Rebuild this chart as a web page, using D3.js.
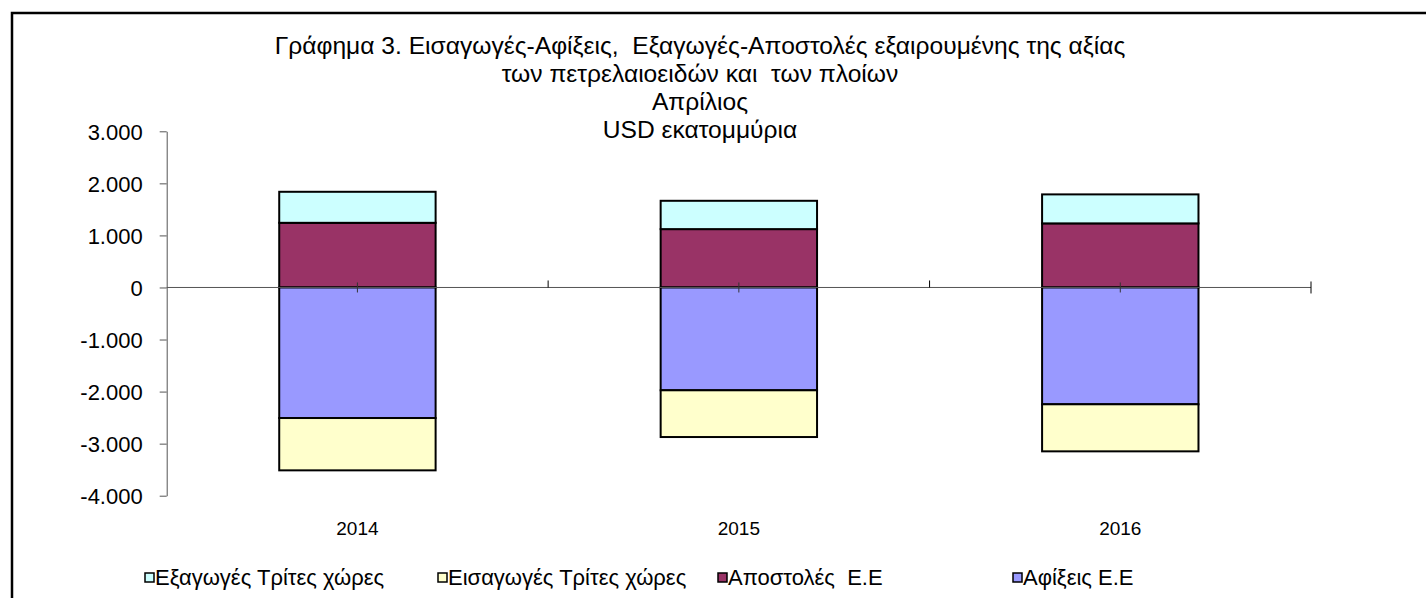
<!DOCTYPE html>
<html>
<head>
<meta charset="utf-8">
<script src="https://cdn.jsdelivr.net/npm/d3@7"></script>
<style>
  html, body { margin: 0; padding: 0; background: #fff; }
  svg { display: block; }
  text { font-family: "Liberation Sans", Arial, sans-serif; fill: #000; }
</style>
</head>
<body>
<svg id="chart" width="1426" height="598"></svg>
<script>
// ---- data (USD millions) ----
const years = ["2014", "2015", "2016"];
const exportsThird = [596, 544, 557];        // Εξαγωγές Τρίτες χώρες
const importsThird = [-1005, -898, -904];    // Εισαγωγές Τρίτες χώρες
const dispatchesEU = [1242, 1121, 1231];     // Αποστολές Ε.Ε
const arrivalsEU = [-2508, -1975, -2244];    // Αφίξεις Ε.Ε
const yTicks = [-4000, -3000, -2000, -1000, 0, 1000, 2000, 3000];
const titleLines = [
  "Γράφημα 3. Εισαγωγές-Αφίξεις,  Εξαγωγές-Αποστολές εξαιρουμένης της αξίας",
  "των πετρελαιοειδών και  των πλοίων",
  "Απρίλιος",
  "USD εκατομμύρια"
];
const seriesDefs = [
  { key: "dispatches", name: "Αποστολές  Ε.Ε", color: "#993366", values: dispatchesEU },
  { key: "arrivals", name: "Αφίξεις Ε.Ε", color: "#9999FF", values: arrivalsEU },
  { key: "exports", name: "Εξαγωγές Τρίτες χώρες", color: "#CCFFFF", values: exportsThird },
  { key: "imports", name: "Εισαγωγές Τρίτες χώρες", color: "#FFFFCC", values: importsThird }
];
const legendOrder = ["exports", "imports", "dispatches", "arrivals"];

// ---- build table ----
const table = years.map((y, i) => {
  const row = { year: y };
  seriesDefs.forEach(s => row[s.key] = s.values[i]);
  return row;
});

const svg = d3.select("#chart");

// frame (chart area border)
svg.append("rect")
  .attr("x", 12).attr("y", 13)
  .attr("width", 1440).attr("height", 600)
  .attr("fill", "none").attr("stroke", "#000").attr("stroke-width", 2.5);

const plotLeft = 166.7, plotRight = 1311, yTop = 131.3, yBottom = 495.7;

const x = d3.scaleBand().domain(years).range([plotLeft, plotRight])
  .paddingInner(0.59).paddingOuter(0.295);
const y = d3.scaleLinear().domain([-4000, 3000]).range([yBottom, yTop]);

const locale = d3.formatLocale({ decimal: ",", thousands: ".", grouping: [3], currency: ["", ""], minus: "-" });
const fmt = locale.format(",");

// title
const title = svg.append("text").attr("text-anchor", "middle").style("font-size", "24.6px");
titleLines.forEach((t, i) => {
  title.append("tspan").attr("x", 700).attr("y", 54 + i * 28).style("white-space", "pre").text(t);
});

// bars
const stack = d3.stack().keys(seriesDefs.map(s => s.key)).offset(d3.stackOffsetDiverging);
const stacked = stack(table);
const gBars = svg.append("g");
stacked.forEach((layer, li) => {
  gBars.selectAll(null).data(layer).enter().append("rect")
    .attr("x", d => x(d.data.year))
    .attr("width", x.bandwidth())
    .attr("y", d => y(Math.max(d[0], d[1])))
    .attr("height", d => Math.abs(y(d[0]) - y(d[1])))
    .attr("fill", seriesDefs[li].color)
    .attr("stroke", "#000")
    .attr("stroke-width", 2);
});

// y axis
const yAxis = d3.axisLeft(y).tickValues(yTicks).tickFormat(fmt).tickSize(7).tickPadding(17).tickSizeOuter(0);
const gy = svg.append("g").attr("transform", `translate(${plotLeft},0)`).call(yAxis);
gy.select(".domain").attr("stroke", "#555");
gy.selectAll(".tick line").attr("stroke", "#555");
gy.selectAll(".tick text").style("font-size", "22px").attr("dy", "0.36em").style("font-family", "'Liberation Sans', Arial, sans-serif");

// x axis at zero
const y0 = y(0);
const gx = svg.append("g");
gx.append("line").attr("x1", plotLeft).attr("x2", plotRight).attr("y1", y0).attr("y2", y0)
  .attr("stroke", "#555").attr("stroke-width", 1);
const boundaries = years.slice(1).map(yr => x(yr) - x.step() * x.paddingInner() / 2);
gx.selectAll(".bt").data(boundaries).enter().append("line")
  .attr("x1", d => d).attr("x2", d => d).attr("y1", y0 - 7).attr("y2", y0)
  .attr("stroke", "#000");
gx.append("line").attr("x1", plotRight).attr("x2", plotRight).attr("y1", y0 - 6).attr("y2", y0 + 6)
  .attr("stroke", "#000");
gx.selectAll(".ct").data(years).enter().append("line")
  .attr("x1", d => x(d) + x.bandwidth() / 2).attr("x2", d => x(d) + x.bandwidth() / 2)
  .attr("y1", y0 - 5).attr("y2", y0 + 5).attr("stroke", "#333");

// category labels
svg.selectAll(".cat").data(years).enter().append("text")
  .attr("x", d => x(d) + x.bandwidth() / 2)
  .attr("y", 535)
  .attr("text-anchor", "middle")
  .style("font-size", "19px")
  .text(d => d);

// legend
const legendX = [145, 438, 718, 1013];
const lg = svg.append("g");
legendOrder.forEach((k, i) => {
  const s = seriesDefs.find(d => d.key === k);
  const g = lg.append("g").attr("transform", `translate(${legendX[i]},0)`);
  g.append("rect").attr("x", 0).attr("y", 573).attr("width", 9).attr("height", 9)
    .attr("fill", s.color).attr("stroke", "#000").attr("stroke-width", 1.5);
  g.append("text").attr("x", 10).attr("y", 585).style("font-size", "22px").style("white-space", "pre").text(s.name);
});
</script>
</body>
</html>
